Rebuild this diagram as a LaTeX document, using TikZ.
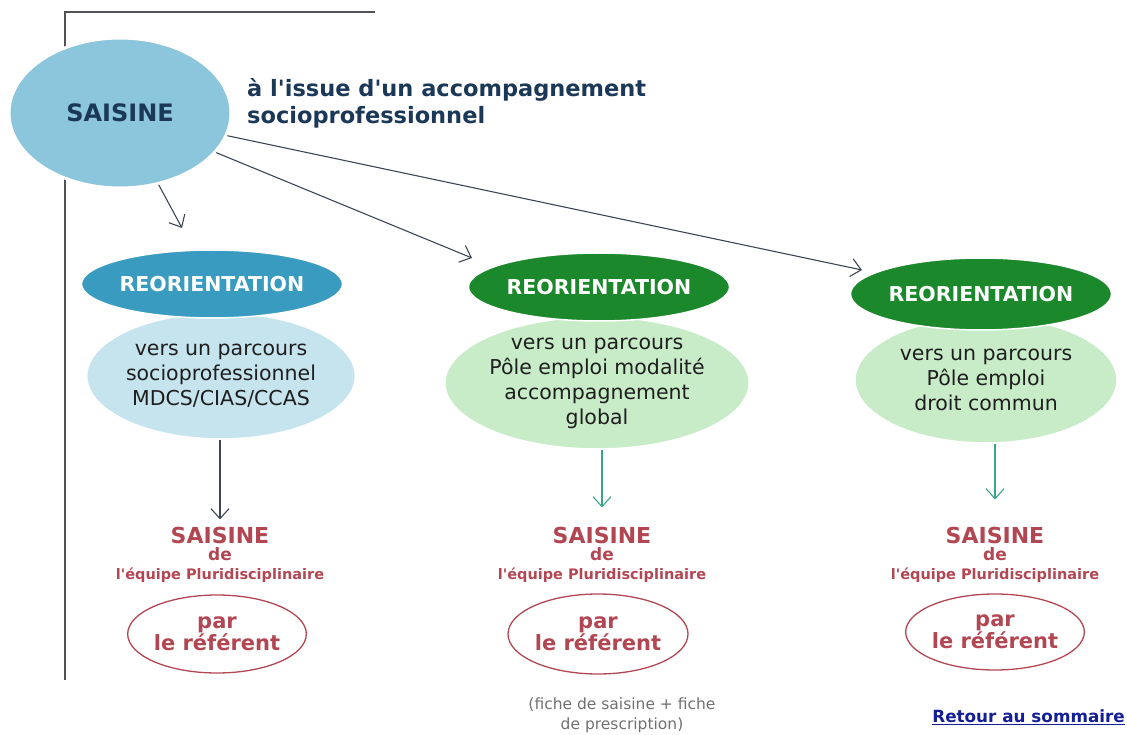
\documentclass[tikz,border=0pt]{standalone}
\usepackage{fontspec}
\setmainfont{DejaVu Sans}[Ligatures=TeXOff]
\usetikzlibrary{shapes.geometric,arrows.meta}
\definecolor{navy}{RGB}{28,56,88}
\definecolor{saisfill}{RGB}{140,198,220}
\definecolor{reoblue}{RGB}{58,155,192}
\definecolor{lightblue}{RGB}{198,228,238}
\definecolor{reogreen}{RGB}{28,136,44}
\definecolor{lightgreen}{RGB}{200,236,200}
\definecolor{redt}{RGB}{178,70,82}
\definecolor{framec}{RGB}{80,82,86}
\definecolor{arrdark}{RGB}{60,70,84}
\definecolor{arrteal}{RGB}{58,165,138}
\definecolor{textdark}{RGB}{30,30,30}
\definecolor{fichegray}{RGB}{112,112,112}
\definecolor{linkblue}{RGB}{20,30,150}
\begin{document}
\begin{tikzpicture}[x=1pt,y=-1pt,
  ell/.style={ellipse, inner sep=0pt, align=center},
  reo/.style={ell, draw=white, line width=1.5pt, text=white, font=\fontsize{20.5}{22}\selectfont\bfseries},
  light/.style={ell, draw=white, line width=1.5pt, font=\fontsize{20.5}{25}\selectfont, text=textdark},
  redbig/.style={text=redt, inner sep=0pt, font=\fontsize{22}{24}\selectfont\bfseries},
  redsmall/.style={text=redt, inner sep=0pt, font=\fontsize{14.5}{17}\selectfont\bfseries},
  redde/.style={text=redt, inner sep=0pt, font=\fontsize{17}{18}\selectfont\bfseries},
  refell/.style={ell, draw=redt, line width=1.3pt, text=redt, font=\fontsize{21}{22}\selectfont\bfseries},
  barb/.style={-{Straight Barb[length=10pt,width=18pt]}, line width=1.1pt},
]
\useasboundingbox (0,0) rectangle (1127,735);
% frame
\coordinate (f1) at (65,680);
\coordinate (f3) at (375,12);
\draw[framec, line width=2pt] (f1) |- (f3);
% main saisine
\node[ell, minimum width=222pt, minimum height=150pt, fill=saisfill, draw=white, line width=3pt,
  text=navy, font=\fontsize{24}{26}\selectfont\bfseries] (saisine) at (120,113) {SAISINE};
\node[anchor=west, align=left, text=navy, inner sep=0pt,
  font=\fontsize{22.5}{27}\selectfont\bfseries] (issue) at (247,103)
  {à l'issue d'un accompagnement\\socioprofessionnel};
% column 1
\node[light, fill=lightblue, minimum width=252pt, minimum height=126pt] (lg1) at (221,376)
  {vers un parcours\\socioprofessionnel\\MDCS/CIAS/CCAS};
\node[reo, fill=reoblue, minimum width=242pt, minimum height=68pt] (reo1) at (212,284) {REORIENTATION};
\node[redbig] (sa1) at (220,535) {SAISINE};
\node[redde] (de1) at (220,554) {de};
\node[redsmall] (eq1) at (220,575) {l'équipe Pluridisciplinaire};
\node[refell, minimum width=166pt, minimum height=78pt] (ref1) at (217,634) {par\\le référent};
% column 2
\node[light, fill=lightgreen, minimum width=256pt, minimum height=132pt] (lg2) at (597,383)
  {vers un parcours\\Pôle emploi modalité\\accompagnement\\global};
\node[reo, fill=reogreen, minimum width=234pt, minimum height=68pt] (reo2) at (599,287) {REORIENTATION};
\node[redbig] (sa2) at (602,535) {SAISINE};
\node[redde] (de2) at (602,554) {de};
\node[redsmall] (eq2) at (602,575) {l'équipe Pluridisciplinaire};
\node[refell, minimum width=180pt, minimum height=80pt] (ref2) at (598,634) {par\\le référent};
\node[text=fichegray, align=center, inner sep=0pt, font=\fontsize{15.5}{20}\selectfont] (fiche) at (622,715)
  {(fiche de saisine + fiche\\de prescription)};
% column 3
\node[light, fill=lightgreen, minimum width=262pt, minimum height=126pt] (lg3) at (986,380)
  {vers un parcours\\Pôle emploi\\droit commun};
\node[reo, fill=reogreen, minimum width=238pt, minimum height=72pt] (reo3) at (981,294) {REORIENTATION};
\node[redbig] (sa3) at (995,535) {SAISINE};
\node[redde] (de3) at (995,554) {de};
\node[redsmall] (eq3) at (995,575) {l'équipe Pluridisciplinaire};
\node[refell, minimum width=176pt, minimum height=76pt] (ref3) at (995,632) {par\\le référent};
% link
\node[anchor=east, inner sep=0pt, text=linkblue, font=\fontsize{16.8}{18}\selectfont\bfseries] (retour) at (1125,717)
  {\underline{Retour au sommaire}};
% arrows from saisine
\coordinate (t1) at (182,228);
\coordinate (t2) at (472,258);
\coordinate (t3) at (862,270);
\draw[barb, arrdark] (saisine) -- (t1);
\draw[barb, arrdark] (saisine) -- (t2);
\draw[barb, arrdark] (saisine) -- (t3);
% vertical arrows
\draw[barb, arrdark, shorten >=7pt] (sa1.north |- lg1.south) -- (sa1.north);
\draw[barb, arrteal, shorten >=19pt] (sa2.north |- lg2.south) -- (sa2.north);
\draw[barb, arrteal, shorten >=27pt] (sa3.north |- lg3.south) -- (sa3.north);
\end{tikzpicture}
\end{document}
